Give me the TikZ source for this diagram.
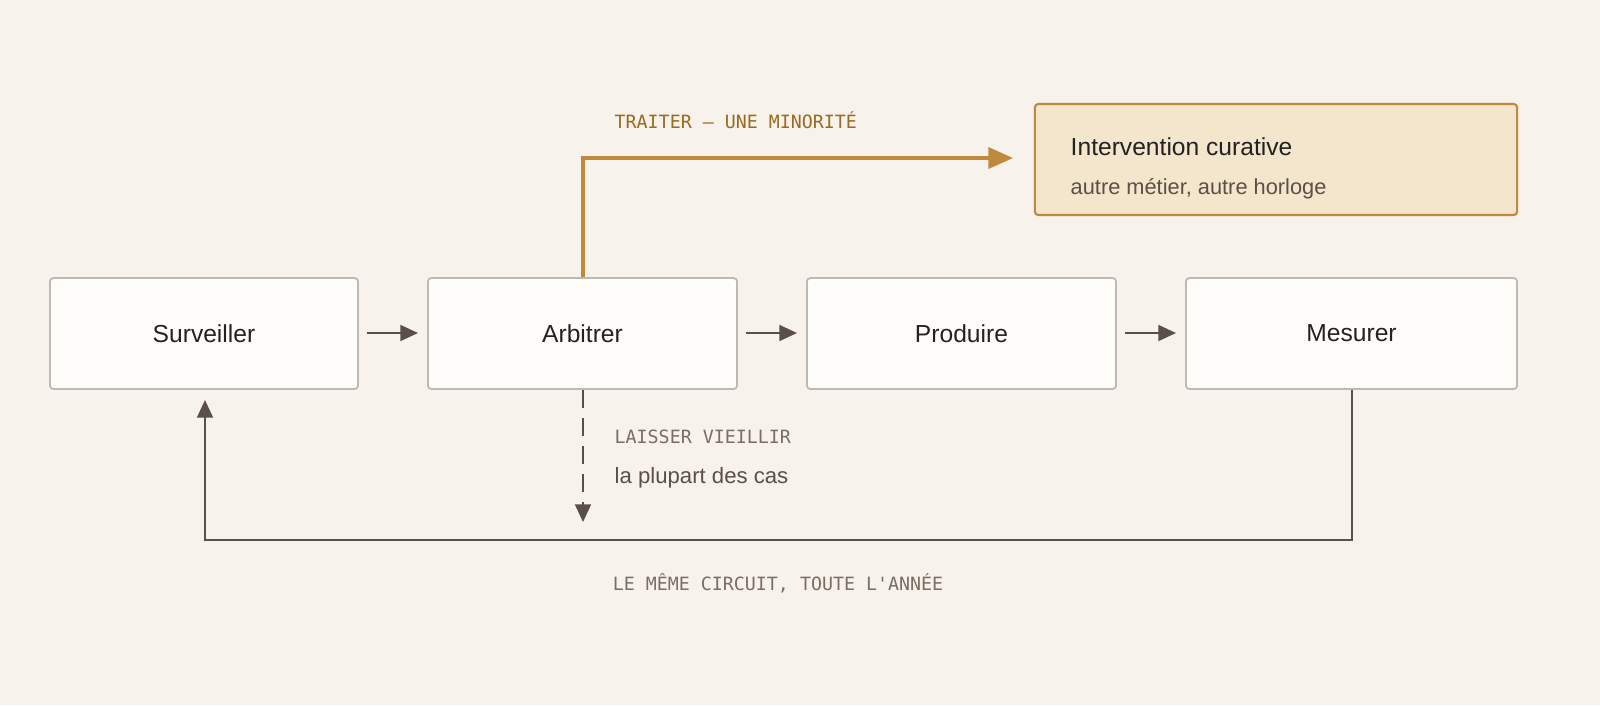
\documentclass[tikz,border=0pt]{standalone}
\usepackage{fontspec}
\setmainfont{Liberation Sans}
\newfontfamily\monof{DejaVu Sans Mono}
\usetikzlibrary{arrows.meta}
\definecolor{bg}{HTML}{F7F2EC}
\definecolor{boxfill}{HTML}{FFFDFA}
\definecolor{boxline}{HTML}{BDB8B2}
\definecolor{gold}{HTML}{BF8A3B}
\definecolor{goldfill}{HTML}{F3E6CC}
\definecolor{dark}{HTML}{5A5048}
\definecolor{txt}{HTML}{222222}
\definecolor{mono}{HTML}{7A6E62}
\definecolor{goldtxt}{HTML}{9A6A20}
\begin{document}
\begin{tikzpicture}[x=0.01cm,y=-0.01cm,
 box/.style={draw=boxline,fill=boxfill,line width=0.5pt,rounded corners=1pt,minimum height=111\pgflinewidth*0+0.01cm*111,inner sep=0pt,font=\fontsize{7}{8}\selectfont,text=txt},
 arr/.style={draw=dark,line width=0.6pt,-{Triangle[length=5pt,width=4.5pt]}},
 lbl/.style={font=\monof\fontsize{5.2}{6}\selectfont,anchor=west,inner sep=0pt}]
\fill[bg] (0,0) rectangle (1600,705);
\useasboundingbox (0,0) rectangle (1600,705);
\node[box,minimum width=3.08cm,minimum height=1.11cm] (s) at (204,333.5) {Surveiller};
\node[box,minimum width=3.09cm,minimum height=1.11cm] (a) at (582.5,333.5) {Arbitrer};
\node[box,minimum width=3.09cm,minimum height=1.11cm] (p) at (961.5,333.5) {Produire};
\node[box,minimum width=3.31cm,minimum height=1.11cm] (m) at (1351.5,333.5) {Mesurer};
\node[draw=gold,fill=goldfill,line width=0.6pt,rounded corners=1pt,minimum width=4.82cm,minimum height=1.11cm] (c) at (1276,159.5) {};
\node[anchor=west,inner sep=0pt,font=\fontsize{7}{8}\selectfont,text=txt] (ct) at (1070,147) {Intervention curative};
\node[anchor=west,inner sep=0pt,font=\fontsize{6.2}{7}\selectfont,text=dark] (cs) at (1070,189) {autre métier, autre horloge};
\coordinate (s1) at (367,333); \coordinate (s2) at (418,333);
\coordinate (a1) at (746,333); \coordinate (a2) at (797,333);
\coordinate (p1) at (1125,333); \coordinate (p2) at (1176,333);
\draw[arr] (s1)--(s2); \draw[arr] (a1)--(a2); \draw[arr] (p1)--(p2);
\coordinate (g1) at (583,158); \coordinate (g2) at (1013,158);
\draw[draw=gold,line width=0.9pt,-{Triangle[length=7pt,width=6pt]}] (a.north -| g1) -- (g1) -- (g2);
\node[lbl,text=goldtxt] (t1) at (614,120) {TRAITER — UNE MINORITÉ};
\coordinate (d1) at (583,522);
\draw[arr,dashed,dash pattern=on 5pt off 3pt] (a.south -| d1) -- (d1);
\node[lbl,text=mono] (t2) at (614,437) {LAISSER VIEILLIR};
\node[anchor=west,inner sep=0pt,font=\fontsize{6.3}{7}\selectfont,text=dark] (t3) at (614,478) {la plupart des cas};
\coordinate (l1) at (1352,540); \coordinate (l2) at (205,540); \coordinate (l3) at (205,400);
\draw[arr] (m.south -| l1) -- (l1) -- (l2) -- (l3);
\node[lbl,anchor=center,text=mono] (t4) at (778,583) {LE MÊME CIRCUIT, TOUTE L'ANNÉE};
\end{tikzpicture}
\end{document}
